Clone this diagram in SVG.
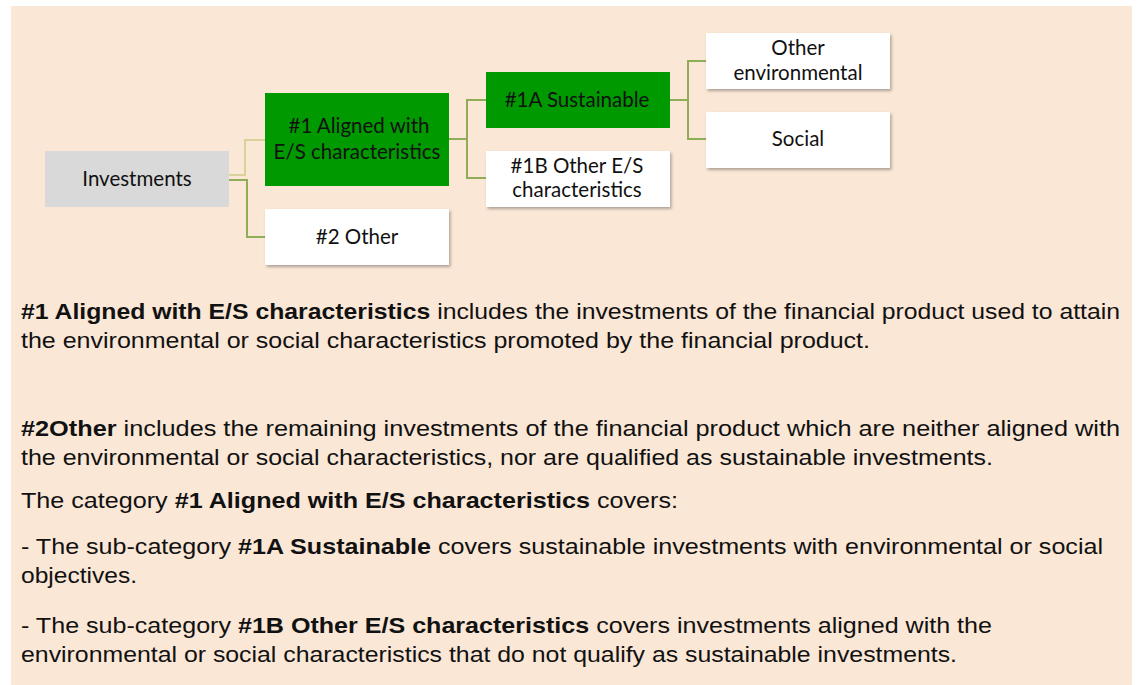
<svg xmlns="http://www.w3.org/2000/svg" width="1137" height="685" viewBox="0 0 1137 685">
<defs>
<filter id="sh" x="-10%" y="-20%" width="125%" height="150%">
<feDropShadow dx="1.5" dy="2" stdDeviation="1.5" flood-color="#000" flood-opacity="0.3"/>
</filter>
<style>
.nt{font-family:Lato,"Open Sans",sans-serif;font-size:20.5px;fill:#111;text-anchor:middle}
.b{font-weight:bold}
.c{fill:none;stroke:#8fac56;stroke-width:2}
.cp{fill:none;stroke:#d8d29a;stroke-width:2}
.g{fill:#009900}
.w{fill:#fff;filter:url(#sh)}
</style>
</defs>
<rect x="0" y="0" width="1137" height="685" fill="#fff"/>
<rect x="11" y="6" width="1121" height="679" fill="#fae7d6"/>
<g id="connectors">
<polyline class="cp" points="229,175 245,175 245,140 265,140"/>
<polyline class="c" points="229,180 247,180 247,237 265,237"/>
<polyline class="c" points="449,139 467,139"/>
<polyline class="c" points="486,100 467,100 467,178 486,178"/>
<polyline class="c" points="670,100 688,100"/>
<polyline class="c" points="706,61 688,61 688,139 706,139"/>
</g>
<g id="investments">
<rect x="45" y="151" width="184" height="56" fill="#d9d9d9"/>
<text class="nt" x="137" y="186">Investments</text>
</g>
<g id="aligned">
<rect class="g" x="265" y="93" width="184" height="93"/>
<text class="nt" x="359" y="133">#1 Aligned with</text>
<text class="nt" x="357" y="159">E/S characteristics</text>
</g>
<g id="other2">
<rect class="w" x="265" y="209" width="184" height="56"/>
<text class="nt" x="357" y="244">#2 Other</text>
</g>
<g id="sustainable">
<rect class="g" x="486" y="72" width="184" height="56"/>
<text class="nt" x="577" y="107">#1A Sustainable</text>
</g>
<g id="other1b">
<rect class="w" x="486" y="151" width="184" height="56"/>
<text class="nt" x="577" y="173">#1B Other E/S</text>
<text class="nt" x="577" y="197">characteristics</text>
</g>
<g id="otherenv">
<rect class="w" x="706" y="33" width="184" height="56"/>
<text class="nt" x="798" y="55">Other</text>
<text class="nt" x="798" y="80">environmental</text>
</g>
<g id="social">
<rect class="w" x="706" y="112" width="184" height="56"/>
<text class="nt" x="798" y="146">Social</text>
</g>
<g id="description" font-family="'Liberation Sans', Arial, sans-serif" font-size="22" fill="#111">
<text x="21" y="319" textLength="1099" lengthAdjust="spacingAndGlyphs"><tspan class="b">#1 Aligned with E/S characteristics</tspan> includes the investments of the financial product used to attain</text>
<text x="21" y="348" textLength="849" lengthAdjust="spacingAndGlyphs">the environmental or social characteristics promoted by the financial product.</text>
<text x="21" y="436" textLength="1099" lengthAdjust="spacingAndGlyphs"><tspan class="b">#2Other</tspan> includes the remaining investments of the financial product which are neither aligned with</text>
<text x="21" y="465" textLength="972" lengthAdjust="spacingAndGlyphs">the environmental or social characteristics, nor are qualified as sustainable investments.</text>
<text x="21" y="508" textLength="657" lengthAdjust="spacingAndGlyphs">The category <tspan class="b">#1 Aligned with E/S characteristics</tspan> covers:</text>
<text x="21" y="554" textLength="1082" lengthAdjust="spacingAndGlyphs">- The sub-category <tspan class="b">#1A Sustainable</tspan> covers sustainable investments with environmental or social</text>
<text x="21" y="583" textLength="116" lengthAdjust="spacingAndGlyphs">objectives.</text>
<text x="21" y="633" textLength="971" lengthAdjust="spacingAndGlyphs">- The sub-category <tspan class="b">#1B Other E/S characteristics</tspan> covers investments aligned with the</text>
<text x="21" y="662" textLength="936" lengthAdjust="spacingAndGlyphs">environmental or social characteristics that do not qualify as sustainable investments.</text>
</g>
</svg>
